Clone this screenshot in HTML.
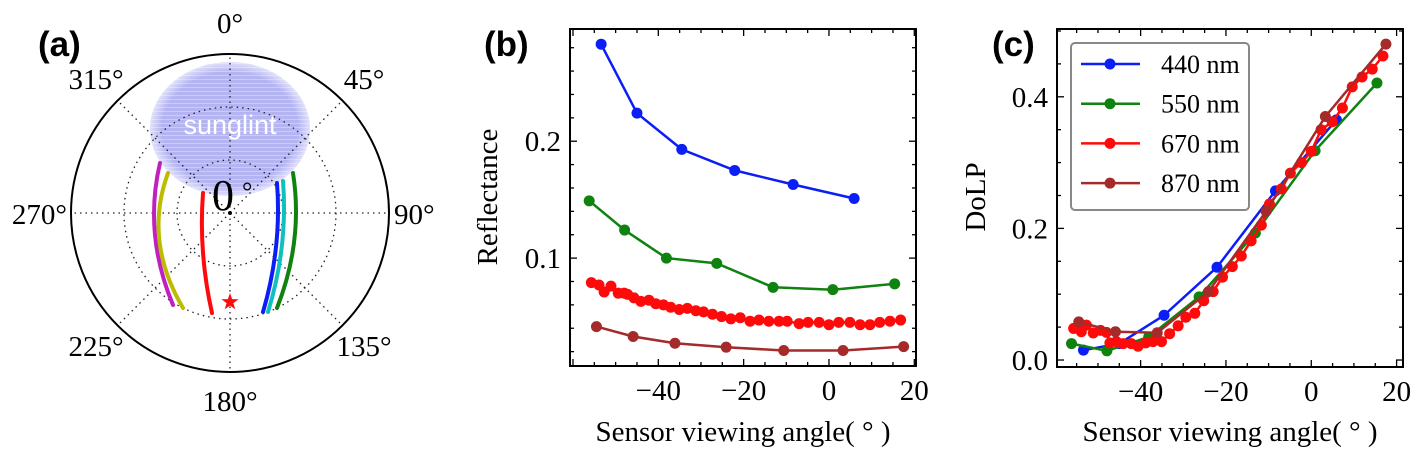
<!DOCTYPE html>
<html><head><meta charset="utf-8">
<style>
html,body{margin:0;padding:0;background:#fff;}
svg{display:block;}
</style></head>
<body>
<svg id="fig" width="1425" height="461" viewBox="0 0 1425 461" xmlns="http://www.w3.org/2000/svg">
<defs>
<pattern id="stripes" width="4" height="4" patternUnits="userSpaceOnUse">
<rect width="4" height="4" fill="#b0b0f2"/><rect y="3" width="4" height="1" fill="#c8c8f6"/>
</pattern>
<radialGradient id="glintfade" cx="0.5" cy="0.5" r="0.5">
<stop offset="0.85" stop-color="#fff" stop-opacity="0"/><stop offset="1" stop-color="#fff" stop-opacity="0.6"/>
</radialGradient>
</defs>
<g id="pa"></g>
<g id="pb"></g>
<g id="pc"></g>
</svg>
<script>
// ---------- Data ----------
const blueX = [-53.4,-45,-34.5,-22.1,-8.4,5.9];
const blueRefl = [0.283,0.224,0.193,0.175,0.163,0.151];
const blueDolp = [0.015,0.025,0.068,0.141,0.257,0.365];
const greenX = [-56.2,-47.9,-38.1,-26.3,-13.1,0.9,15.4];
const greenRefl = [0.149,0.124,0.100,0.0955,0.075,0.073,0.078];
const greenDolp = [0.025,0.014,0.035,0.096,0.193,0.318,0.421];
const brownX = [-54.5,-45.9,-36.1,-24.1,-10.6,3.3,17.5];
const brownRefl = [0.0414,0.0329,0.0272,0.0238,0.021,0.021,0.0243];
const brownDolp = [0.058,0.043,0.0415,0.104,0.226,0.37,0.48];
const redX = [-55.7,-53.9,-52.7,-51.1,-49.4,-48.0,-47.2,-45.7,-44.1,-42.2,-40.6,-38.8,-37.1,-35.1,-33.2,-31.2,-29.4,-27.3,-25.2,-23.0,-20.8,-18.5,-16.4,-14.1,-11.7,-9.8,-7.0,-4.9,-2.3,0,2.3,4.9,7.3,9.6,11.9,14.3,16.8];
const redRefl = [0.079,0.077,0.071,0.076,0.070,0.070,0.069,0.066,0.063,0.064,0.061,0.060,0.058,0.056,0.057,0.055,0.054,0.052,0.050,0.048,0.049,0.046,0.047,0.046,0.046,0.046,0.044,0.045,0.045,0.043,0.045,0.045,0.043,0.043,0.045,0.046,0.047];
const redDolp = [0.048,0.043,0.053,0.041,0.045,0.042,0.026,0.028,0.025,0.025,0.021,0.026,0.028,0.028,0.040,0.052,0.065,0.071,0.090,0.104,0.126,0.142,0.158,0.181,0.205,0.237,0.260,0.284,0.300,0.317,0.350,0.362,0.383,0.415,0.430,0.442,0.462];
const xTicks = [-40,-20,0,20];
const reflTicks = [0.1,0.2];
const reflTickLabels = ["0.1","0.2"];
const dolpTicks = [0,0.2,0.4];
const dolpTickLabels = ["0.0","0.2","0.4"];
const legendLabels = ["440 nm","550 nm","670 nm","870 nm"];
const polarLabels = ["0°","45°","90°","135°","180°","225°","270°","315°"];

const NS = "http://www.w3.org/2000/svg";
const SERIF = '"Liberation Serif", serif';
const SANS = '"Liberation Sans", sans-serif';
function mk(parent, tag, attrs, text){
  const e = document.createElementNS(NS, tag);
  for (const k in attrs) e.setAttribute(k, attrs[k]);
  if (tag === 'text' && !attrs['font-family']) e.setAttribute('font-family', SERIF);
  if (text !== undefined) e.textContent = text;
  parent.appendChild(e);
  return e;
}
const COL = {blue:"#0a1ef5", green:"#0f820f", red:"#ff0a0a", brown:"#a52a2a"};

// ---------- Panel (a) ----------
(function(){
  const g = document.getElementById('pa');
  const cx=230, cy=213, R=159;
  const sg = mk(g,'ellipse',{cx:230,cy:129,rx:80,ry:67,fill:'url(#stripes)',opacity:0.95});
  
  
  mk(g,'ellipse',{cx:230,cy:129,rx:80,ry:67,fill:'url(#glintfade)'});
  [53,106].forEach(r=>{
    const c = mk(g,'circle',{cx:cx,cy:cy,r:r,fill:'none',stroke:'#222','stroke-width':1.3,'stroke-dasharray':'1.5 4'});
    
    
  });
  for (let i=0;i<8;i++){
    const a = i*Math.PI/4;
    const l = mk(g,'line',{x1:cx,y1:cy,x2:cx+R*Math.sin(a),y2:cy-R*Math.cos(a),stroke:'#222','stroke-width':1.3,'stroke-dasharray':'1.5 4'});
    
    
  }
  const outer = mk(g,'circle',{cx:cx,cy:cy,r:R,fill:'none',stroke:'#000','stroke-width':2});
  
  
  const sgt = mk(g,'text',{x:230,y:134,'text-anchor':'middle','font-family':SANS,'font-size':27,fill:'#fff'},'sunglint');
  
  
  const arcs = [
    ['#c020c0',160,163,154,213,173,305],
    ['#bcbc00',168,173,159,213,183,308],
    ['#ff0a0a',203,193,202,213,212,313],
    ['#0a1ef5',277,183,278,213,263,312],
    ['#10c0c0',283,181,284,213,268,312],
    ['#0f820f',293,173,296,213,277,308]
  ];
  arcs.forEach(a=>{
    const [c,x0,y0,xm,ym,x1,y1]=a;
    const t = (ym-y0)/(y1-y0);
    const qx = (xm - (1-t)*(1-t)*x0 - t*t*x1)/(2*t*(1-t));
    const qy = (ym - (1-t)*(1-t)*y0 - t*t*y1)/(2*t*(1-t));
    const p = mk(g,'path',{d:`M${x0},${y0} Q${qx},${qy} ${x1},${y1}`,fill:'none',stroke:c,'stroke-width':4,'stroke-linecap':'round'});
    
    
  });
  const st=[];
  for(let i=0;i<10;i++){const r=i%2?3.6:9;const a=i*Math.PI/5;st.push((230+r*Math.sin(a)).toFixed(1)+','+(302-r*Math.cos(a)).toFixed(1));}
  const star = mk(g,'polygon',{points:st.join(' '),fill:'#ff0a0a'});
  
  
  mk(g,'circle',{cx:cx,cy:cy,r:2,fill:'#000'});
  const pos=[[230,33,'middle'],[364,89,'middle'],[394,224,'start'],[364,356,'middle'],[230,411,'middle'],[96,356,'middle'],[67,224,'end'],[96,89,'middle']];
  pos.forEach((p,i)=>{
    const t = mk(g,'text',{x:p[0],y:p[1],'text-anchor':p[2],'font-size':29},polarLabels[i]);
    
    
  });
  const z = mk(g,'text',{x:212,y:210,'font-size':44},'0');
  
  
  mk(g,'text',{x:242,y:200,'font-size':26},'°');
  const pl = mk(g,'text',{x:38,y:56,'font-family':SANS,'font-size':35,'font-weight':'bold'},'(a)');
  
  
})();

// ---------- Cartesian helper ----------
function panel(gid, box, xr, yr, yMajor, yLabels, yMinorStep, ylabel, plabel, plx){
  const g = document.getElementById(gid);
  const {L,R,T,B} = box;
  const sx = v => L + (v - xr[0])/(xr[1]-xr[0])*(R-L);
  const sy = v => B - (v - yr[0])/(yr[1]-yr[0])*(B-T);
  for (let v=-60; v<=20.001; v+=5){
    const x=sx(v); if (x<L+1||x>R-1) continue;
    const len = (Math.abs(v%20)<1e-6)?7:4;
    mk(g,'line',{x1:x,y1:B,x2:x,y2:B-len,stroke:'#000','stroke-width':1.3});
    mk(g,'line',{x1:x,y1:T,x2:x,y2:T+len,stroke:'#000','stroke-width':1.3});
  }
  const n0 = Math.ceil(yr[0]/yMinorStep-1e-6), n1=Math.floor(yr[1]/yMinorStep+1e-6);
  for (let n=n0;n<=n1;n++){
    const v=n*yMinorStep, y=sy(v);
    const major = yMajor.some(m=>Math.abs(m-v)<1e-6);
    const len = major?7:4;
    mk(g,'line',{x1:L,y1:y,x2:L+len,y2:y,stroke:'#000','stroke-width':1.3});
    mk(g,'line',{x1:R,y1:y,x2:R-len,y2:y,stroke:'#000','stroke-width':1.3});
  }
  xTicks.forEach(v=>{
    const t = mk(g,'text',{x:sx(v),y:B+34,'text-anchor':'middle','font-size':29},(v<0?'\u2212'+(-v):''+v));
    
    
  });
  yMajor.forEach((v,i)=>{
    const t = mk(g,'text',{x:L-9,y:sy(v)+10,'text-anchor':'end','font-size':29},yLabels[i]);
    
    
  });
  const fr = mk(g,'rect',{x:L,y:T,width:R-L,height:B-T,fill:'none',stroke:'#000','stroke-width':2});
  
  
  const xl = mk(g,'text',{x:(L+R)/2,y:441,'text-anchor':'middle','font-size':29},'Sensor viewing angle( \u00b0 )');
  
  
  const yx = ylabel.x, yy = ylabel.y;
  const yl = mk(g,'text',{x:yx,y:yy,'text-anchor':'middle','font-size':29,transform:`rotate(-90 ${yx} ${yy})`},ylabel.t);
  
  
  const pt = mk(g,'text',{x:plx,y:56,'font-family':SANS,'font-size':35,'font-weight':'bold'},plabel);
  
  
  return {g,sx,sy};
}
function series(p, xs, ys, color, name, r){
  const s = mk(p.g,'g',{});
  
  
  const pts = xs.map((x,i)=>p.sx(x).toFixed(1)+','+p.sy(ys[i]).toFixed(1)).join(' ');
  mk(s,'polyline',{points:pts,fill:'none',stroke:color,'stroke-width':2.5});
  xs.forEach((x,i)=>{
    const c = mk(s,'circle',{cx:p.sx(x),cy:p.sy(ys[i]),r:r,fill:color});
    
    
  });
}

// ---------- Panel (b) ----------
const pb = panel('pb',{L:570,R:916,T:29,B:366},[-60.7,20.4],[0.0077,0.296],reflTicks,reflTickLabels,0.02,{x:497,y:197,t:'Reflectance'},'(b)',484);
series(pb, blueX, blueRefl, COL.blue, 'series-440nm', 5.5);
series(pb, greenX, greenRefl, COL.green, 'series-550nm', 5.5);
series(pb, redX, redRefl, COL.red, 'series-670nm', 5.5);
series(pb, brownX, brownRefl, COL.brown, 'series-870nm', 5.5);

// ---------- Panel (c) ----------
const pc = panel('pc',{L:1057,R:1403,T:29,B:367},[-59.6,21.5],[-0.0106,0.503],dolpTicks,dolpTickLabels,0.05,{x:985,y:197,t:'DoLP'},'(c)',992);
series(pc, blueX, blueDolp, COL.blue, 'series-440nm', 5.5);
series(pc, greenX, greenDolp, COL.green, 'series-550nm', 5.5);
series(pc, redX, redDolp, COL.red, 'series-670nm', 5.5);
series(pc, brownX, brownDolp, COL.brown, 'series-870nm', 5.5);

(function(){
  const g = pc.g;
  const lg = mk(g,'g',{});
  
  
  mk(lg,'rect',{x:1071,y:43,width:178,height:167,rx:4,fill:'#fff',stroke:'#888','stroke-width':2});
  const cols=[COL.blue,COL.green,COL.red,COL.brown];
  legendLabels.forEach((t,i)=>{
    const y = 64+i*39.7;
    const e = mk(lg,'g',{});
    
    
    mk(e,'line',{x1:1081,y1:y,x2:1140,y2:y,stroke:cols[i],'stroke-width':2.5});
    mk(e,'circle',{cx:1110,cy:y,r:5.5,fill:cols[i]});
    mk(e,'text',{x:1161,y:y+9,'font-size':26},t);
  });
})();
</script>
</body></html>
